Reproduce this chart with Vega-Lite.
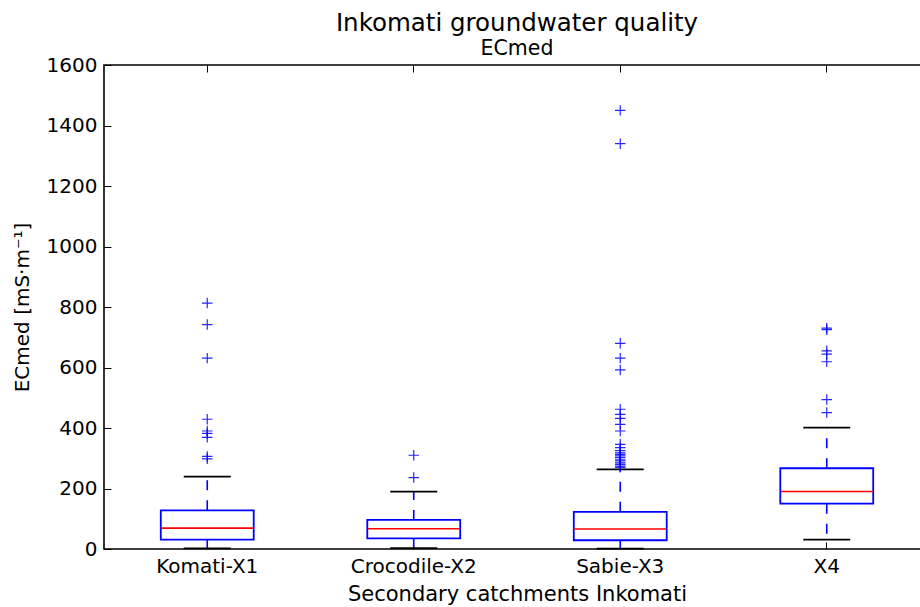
{
  "$schema": "https://vega.github.io/schema/vega-lite/v6.json",
  "autosize": "none",
  "padding": {"left": 104, "top": 65, "right": 0, "bottom": 58},
  "width": 826,
  "height": 484,
  "background": "white",
  "config": {
    "font": "DejaVu Sans",
    "view": {"stroke": "black", "strokeWidth": 1.6},
    "axis": {"labelFont": "DejaVu Sans", "titleFont": "DejaVu Sans", "labelColor": "black", "titleColor": "black", "tickColor": "black", "grid": false, "domain": false}
  },
  "title": {
    "text": "Inkomati groundwater quality",
    "subtitle": "ECmed",
    "anchor": "middle",
    "fontSize": 24.5,
    "fontWeight": "normal",
    "color": "black",
    "subtitleFontSize": 20.5,
    "subtitleColor": "black",
    "subtitleFont": "DejaVu Sans",
    "font": "DejaVu Sans",
    "subtitlePadding": 2,
    "offset": -5
  },
  "datasets": {
    "summary": [
      {"c": "Komati-X1", "lower": 2, "q1": 31, "median": 69, "q3": 128, "upper": 239},
      {"c": "Crocodile-X2", "lower": 3, "q1": 35, "median": 67, "q3": 96, "upper": 190},
      {"c": "Sabie-X3", "lower": 1, "q1": 29, "median": 66, "q3": 123, "upper": 263},
      {"c": "X4", "lower": 31, "q1": 150, "median": 190, "q3": 267, "upper": 401}
    ],
    "outliers": [
      {"c": "Komati-X1", "v": 813},
      {"c": "Komati-X1", "v": 742},
      {"c": "Komati-X1", "v": 631},
      {"c": "Komati-X1", "v": 429},
      {"c": "Komati-X1", "v": 390},
      {"c": "Komati-X1", "v": 382},
      {"c": "Komati-X1", "v": 369},
      {"c": "Komati-X1", "v": 306},
      {"c": "Komati-X1", "v": 298},
      {"c": "Crocodile-X2", "v": 310},
      {"c": "Crocodile-X2", "v": 236},
      {"c": "Sabie-X3", "v": 1450},
      {"c": "Sabie-X3", "v": 1340},
      {"c": "Sabie-X3", "v": 680},
      {"c": "Sabie-X3", "v": 631},
      {"c": "Sabie-X3", "v": 592},
      {"c": "Sabie-X3", "v": 462},
      {"c": "Sabie-X3", "v": 445},
      {"c": "Sabie-X3", "v": 432},
      {"c": "Sabie-X3", "v": 412},
      {"c": "Sabie-X3", "v": 390},
      {"c": "Sabie-X3", "v": 346},
      {"c": "Sabie-X3", "v": 335},
      {"c": "Sabie-X3", "v": 325},
      {"c": "Sabie-X3", "v": 318},
      {"c": "Sabie-X3", "v": 313},
      {"c": "Sabie-X3", "v": 308},
      {"c": "Sabie-X3", "v": 302},
      {"c": "Sabie-X3", "v": 295},
      {"c": "Sabie-X3", "v": 291},
      {"c": "Sabie-X3", "v": 285},
      {"c": "Sabie-X3", "v": 280},
      {"c": "Sabie-X3", "v": 274},
      {"c": "Sabie-X3", "v": 270},
      {"c": "X4", "v": 730},
      {"c": "X4", "v": 725},
      {"c": "X4", "v": 655},
      {"c": "X4", "v": 644},
      {"c": "X4", "v": 619},
      {"c": "X4", "v": 494},
      {"c": "X4", "v": 451}
    ]
  },
  "resolve": {"axis": {"x": "independent"}},
  "layer": [
    {
      "data": {"name": "summary"},
      "mark": {"type": "rule", "color": "#0000ff", "strokeWidth": 1.6, "strokeDash": [10, 10]},
      "encoding": {
        "x": {
          "field": "c",
          "type": "nominal",
          "sort": ["Komati-X1", "Crocodile-X2", "Sabie-X3", "X4"],
          "scale": {"paddingInner": 0, "paddingOuter": 0},
          "axis": {
            "orient": "bottom",
            "title": "Secondary catchments Inkomati",
            "labelAngle": 0,
            "labelFontSize": 20,
            "titleFontSize": 21,
            "titleFontWeight": "normal",
            "tickSize": -7,
            "tickWidth": 1,
            "labelPadding": 14,
            "titlePadding": 7,
            "bandPosition": 0.5
          }
        },
        "y": {"field": "q1", "type": "quantitative", "scale": {"domain": [0, 1600], "nice": false},
          "axis": {
            "title": "ECmed [mS·m⁻¹]",
            "format": "d",
            "values": [0, 200, 400, 600, 800, 1000, 1200, 1400, 1600],
            "labelFontSize": 20,
            "titleFontSize": 20,
            "titleFontWeight": "normal",
            "tickSize": -7,
            "tickWidth": 1,
            "labelPadding": 14,
            "titlePadding": 14
          }
        },
        "y2": {"field": "lower"}
      }
    },
    {
      "data": {"name": "summary"},
      "mark": {"type": "rule", "color": "#0000ff", "strokeWidth": 1.6, "strokeDash": [10, 10]},
      "encoding": {
        "x": {"field": "c", "type": "nominal", "sort": ["Komati-X1", "Crocodile-X2", "Sabie-X3", "X4"], "axis": null},
        "y": {"field": "q3", "type": "quantitative"},
        "y2": {"field": "upper"}
      }
    },
    {
      "data": {"name": "summary"},
      "mark": {"type": "tick", "color": "black", "size": 47, "thickness": 1.8, "opacity": 1},
      "encoding": {
        "x": {"field": "c", "type": "nominal", "sort": ["Komati-X1", "Crocodile-X2", "Sabie-X3", "X4"], "axis": null},
        "y": {"field": "lower", "type": "quantitative"}
      }
    },
    {
      "data": {"name": "summary"},
      "mark": {"type": "tick", "color": "black", "size": 47, "thickness": 1.8, "opacity": 1},
      "encoding": {
        "x": {"field": "c", "type": "nominal", "sort": ["Komati-X1", "Crocodile-X2", "Sabie-X3", "X4"], "axis": null},
        "y": {"field": "upper", "type": "quantitative"}
      }
    },
    {
      "data": {"name": "summary"},
      "mark": {"type": "bar", "fill": "white", "stroke": "#0000ff", "strokeWidth": 1.8, "width": {"band": 0.45}},
      "encoding": {
        "x": {"field": "c", "type": "nominal", "sort": ["Komati-X1", "Crocodile-X2", "Sabie-X3", "X4"], "axis": null},
        "y": {"field": "q1", "type": "quantitative"},
        "y2": {"field": "q3"}
      }
    },
    {
      "data": {"name": "summary"},
      "mark": {"type": "tick", "color": "#ff0000", "size": 92, "thickness": 1.6, "opacity": 1},
      "encoding": {
        "x": {"field": "c", "type": "nominal", "sort": ["Komati-X1", "Crocodile-X2", "Sabie-X3", "X4"], "axis": null},
        "y": {"field": "median", "type": "quantitative"}
      }
    },
    {
      "data": {"name": "outliers"},
      "mark": {"type": "point", "shape": "M-1,0L1,0M0,-1L0,1", "filled": false, "stroke": "#0000ff", "strokeWidth": 1.2, "size": 110, "opacity": 0.85},
      "encoding": {
        "x": {"field": "c", "type": "nominal", "sort": ["Komati-X1", "Crocodile-X2", "Sabie-X3", "X4"], "axis": null},
        "y": {"field": "v", "type": "quantitative"}
      }
    },
    {
      "data": {"name": "summary"},
      "mark": {"type": "rule", "opacity": 0},
      "encoding": {
        "x": {"field": "c", "type": "nominal", "sort": ["Komati-X1", "Crocodile-X2", "Sabie-X3", "X4"],
          "axis": {"orient": "top", "labels": false, "title": null, "tickSize": -7, "tickWidth": 1, "bandPosition": 0.5}}
      }
    }
  ]
}
